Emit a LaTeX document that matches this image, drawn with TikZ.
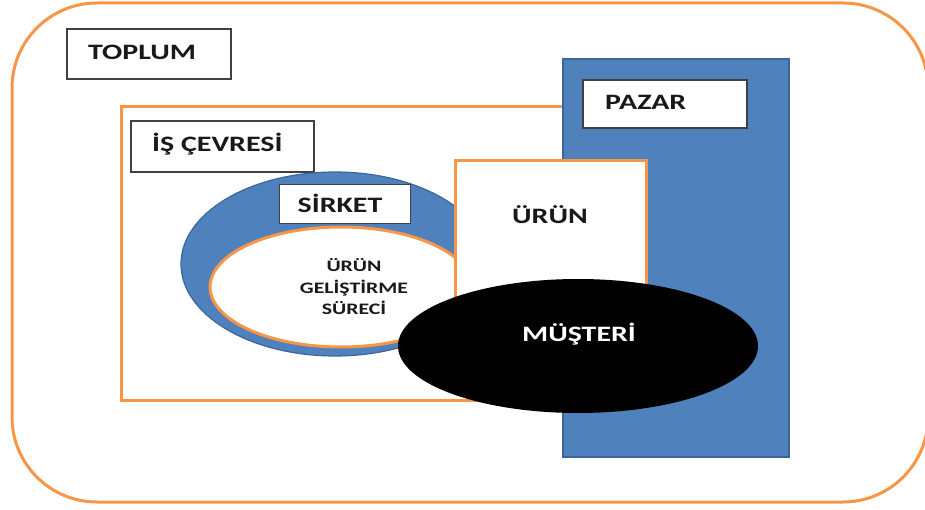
\documentclass[tikz,border=0pt]{standalone}
\usepackage{fontspec}
\setmainfont{Carlito}
\usetikzlibrary{shapes.geometric}
\definecolor{orng}{HTML}{F79646}
\definecolor{blu}{HTML}{4F81BD}
\definecolor{bluedge}{HTML}{3A669C}
\definecolor{lblborder}{HTML}{404040}
\newcommand{\stretchtxt}[1]{\scalebox{1.36}[1]{#1}}
\tikzset{
  x=1pt, y=-1pt,
  frame/.style={draw=orng, line width=3pt, fill=white, inner sep=0, outer sep=0, anchor=north west},
  lbl/.style={draw=lblborder, line width=1.2pt, fill=white, inner sep=0, outer sep=0, anchor=north west},
  lbltxt/.style={font=\bfseries\fontsize{22}{24}\selectfont, text=black!90, inner sep=0},
  bluebox/.style={draw=bluedge, line width=1.5pt, fill=blu, inner sep=0, outer sep=0, anchor=north west},
}
\begin{document}
\begin{tikzpicture}
\useasboundingbox (0,0) rectangle (925,510);
% outer society frame
\draw[orng, line width=3pt, rounded corners=85pt] (12,3) rectangle (928,502);
\node[lbl, minimum width=164pt, minimum height=50pt] (toplum) at (67,29) {};
\node[lbltxt, anchor=west] (toplumtxt) at (88,52) {\stretchtxt{TOPLUM}};
% business environment
\node[frame, minimum width=450pt, minimum height=293pt] (cevre) at (121,107) {};
\node[lbl, minimum width=183pt, minimum height=51pt] (cevrelbl) at (131,121) {};
\node[lbltxt, anchor=west] (cevretxt) at (152,144) {\stretchtxt{İŞ ÇEVRESİ}};
% company ellipse
\node[ellipse, draw=bluedge, line width=1.2pt, fill=blu, minimum width=308pt, minimum height=184pt, inner sep=0] (sirket) at (335,264) {};
\node[ellipse, draw=orng, line width=3pt, fill=white, minimum width=262pt, minimum height=120pt, inner sep=0] (surec) at (341,287) {};
\node[font=\bfseries\fontsize{16}{21.5}\selectfont, text=black!90, align=center, inner sep=0] (surectxt) at (354,287)
   {\stretchtxt{ÜRÜN}\\\stretchtxt{GELİŞTİRME}\\\stretchtxt{SÜRECİ}};
\node[lbl, line width=0.8pt, minimum width=131pt, minimum height=39pt] (sirketlbl) at (279,184) {};
\node[lbltxt] (sirkettxt) at (340,203) {\stretchtxt{SİRKET}};
% market
\node[bluebox, minimum width=226pt, minimum height=398pt] (pazar) at (563,59) {};
\node[lbl, minimum width=164pt, minimum height=48pt] (pazarlbl) at (583,80) {};
\node[lbltxt, anchor=west] (pazartxt) at (605,102) {\stretchtxt{PAZAR}};
% product
\node[frame, minimum width=191pt, minimum height=150pt] (urun) at (455,161) {};
\node[lbltxt] (uruntxt) at (550,215) {\stretchtxt{ÜRÜN}};
% customer
\node[ellipse, fill=black, minimum width=360pt, minimum height=134pt, inner sep=0] (musteri) at (578,346) {};
\node[lbltxt, text=white] (musteritxt) at (579,334) {\stretchtxt{MÜŞTERİ}};
\end{tikzpicture}
\end{document}
